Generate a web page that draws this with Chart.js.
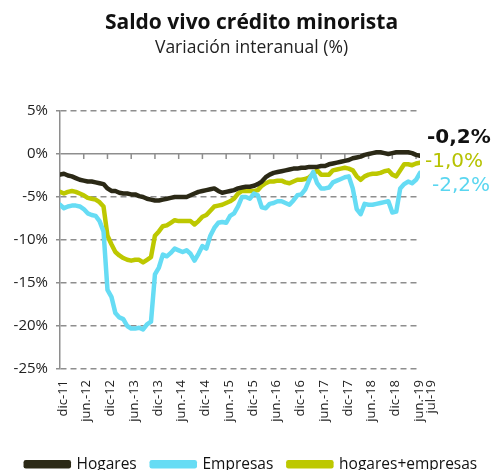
<!DOCTYPE html>
<html><head><meta charset="utf-8">
<script src="https://cdn.jsdelivr.net/npm/chart.js@4"></script>
<style>html,body{margin:0;padding:0;background:#fff}</style>
</head><body>
<canvas id="c" width="493" height="470"></canvas>
<script>
// Month index 0 = dic-11 ... 91 = jul-19
const tickMonths = [0,6,12,18,24,30,36,42,48,54,60,66,72,78,84,90,93];
const tickLabels = ['dic-11','jun.-12','dic-12','jun.-13','dic-13','jun.-14','dic-14','jun.-15','dic-15','jun.-16','dic-16','jun.-17','dic-17','jun.-18','dic-18','jun.-19','jul-19'];
const seriesNames = ['Hogares','Empresas','hogares+empresas'];

const hogares = [
 -2.4,-2.3,-2.5,-2.6,-2.8,-3.0,-3.1,-3.2,-3.2,-3.3,-3.4,-3.5,
 -4.0,-4.3,-4.3,-4.5,-4.6,-4.6,-4.7,-4.7,-4.9,-5.0,-5.2,-5.3,
 -5.4,-5.4,-5.3,-5.2,-5.1,-5.0,-5.0,-5.0,-5.0,-4.8,-4.6,-4.4,
 -4.3,-4.2,-4.1,-4.0,-4.3,-4.5,-4.4,-4.3,-4.2,-4.0,-3.9,-3.8,
 -3.8,-3.7,-3.5,-3.2,-2.7,-2.4,-2.2,-2.1,-2.0,-1.9,-1.8,-1.7,
 -1.7,-1.6,-1.6,-1.5,-1.5,-1.5,-1.4,-1.4,-1.2,-1.1,-1.0,-0.9,
 -0.8,-0.7,-0.5,-0.4,-0.3,-0.1,0.0,0.1,0.2,0.2,0.1,0.0,
 0.1,0.2,0.2,0.2,0.2,0.1,-0.1,-0.2];
const empresas = [
 -5.9,-6.3,-6.1,-6.0,-6.0,-6.1,-6.4,-6.9,-7.1,-7.2,-7.8,-9.0,
 -15.8,-16.6,-18.5,-19.0,-19.2,-20.0,-20.3,-20.3,-20.2,-20.4,-19.8,-19.5,
 -14.0,-13.2,-11.7,-11.9,-11.5,-11.0,-11.2,-11.4,-11.2,-11.6,-12.4,-11.6,
 -10.7,-11.0,-9.5,-8.6,-8.0,-7.9,-8.0,-7.2,-6.9,-6.1,-5.0,-5.0,
 -5.2,-4.6,-4.8,-6.2,-6.3,-5.8,-5.7,-5.5,-5.5,-5.7,-5.9,-5.4,
 -4.8,-4.7,-4.1,-3.0,-2.1,-3.4,-4.0,-4.0,-3.9,-3.3,-3.1,-2.9,
 -2.7,-2.6,-4.0,-6.4,-7.0,-5.8,-5.9,-5.9,-5.8,-5.7,-5.6,-5.5,
 -6.8,-6.7,-4.0,-3.5,-3.2,-3.4,-3.0,-2.2];
const total = [
 -4.4,-4.6,-4.4,-4.3,-4.4,-4.6,-4.8,-5.1,-5.2,-5.3,-5.6,-6.1,
 -9.5,-10.5,-11.4,-11.8,-12.1,-12.3,-12.4,-12.3,-12.3,-12.6,-12.3,-12.0,
 -9.5,-9.0,-8.4,-8.3,-8.0,-7.7,-7.8,-7.8,-7.8,-7.8,-8.2,-7.8,
 -7.3,-7.1,-6.6,-6.1,-6.0,-5.9,-5.7,-5.5,-5.2,-4.6,-4.3,-4.3,
 -4.3,-4.3,-4.2,-3.7,-3.4,-3.2,-3.2,-3.1,-3.1,-3.3,-3.4,-3.2,
 -3.0,-3.0,-2.9,-2.7,-2.3,-1.9,-2.4,-2.4,-2.4,-1.9,-1.8,-1.7,
 -1.6,-1.7,-1.9,-2.6,-3.0,-2.6,-2.4,-2.3,-2.3,-2.2,-2.0,-1.9,
 -2.4,-2.6,-1.9,-1.2,-1.2,-1.3,-1.1,-1.0];
const yTicks = [5,0,-5,-10,-15,-20,-25];

const colors = ['#2b2916','#66dcf4','#bdc800'];
const labelColors = ['#111111','#5ad6f0','#b6c200'];
const FONT = 'Open Sans';
const GRID = '#8e8e8e';

const pts = arr => arr.map((v,i)=>({x:i,y:v}));

const zeroAxisPlugin = {
  id:'zeroAxis',
  beforeDatasetsDraw(chart){
    const {ctx, scales:{x,y}} = chart;
    const y0 = y.getPixelForValue(0);
    ctx.save();
    ctx.strokeStyle = GRID; ctx.lineWidth = 1.5;
    ctx.beginPath();
    tickMonths.forEach(m => {
      if (m > 0 && m <= x.max) {
        const px = x.getPixelForValue(m);
        ctx.moveTo(px, y0); ctx.lineTo(px, y0 + 5);
      }
    });
    ctx.stroke();
    ctx.restore();
  }
};

const endLabelPlugin = {
  id:'endLabels',
  afterDatasetsDraw(chart){
    const {ctx} = chart;
    const style = [
      {dx:7, dy:-18, weight:'bold'},
      {dx:12, dy:12.5, weight:'normal'},
      {dx:5, dy:-1, weight:'normal'}
    ];
    chart.data.datasets.forEach((ds, i) => {
      const meta = chart.getDatasetMeta(i);
      const last = meta.data[meta.data.length-1];
      const v = ds.data[ds.data.length-1].y;
      const txt = v.toFixed(1).replace('.', ',') + '%';
      ctx.save();
      ctx.font = style[i].weight + ' 20px "DejaVu Sans"';
      ctx.fillStyle = labelColors[i];
      ctx.textAlign = 'left'; ctx.textBaseline = 'middle';
      ctx.fillText(txt, last.x + style[i].dx, last.y + style[i].dy);
      ctx.restore();
    });
  }
};

new Chart(document.getElementById('c'), {
  type:'line',
  data:{
    datasets:[
      {label:seriesNames[0], data:pts(hogares), borderColor:colors[0], backgroundColor:colors[0]},
      {label:seriesNames[1], data:pts(empresas), borderColor:colors[1], backgroundColor:colors[1]},
      {label:seriesNames[2], data:pts(total), borderColor:colors[2], backgroundColor:colors[2]}
    ]
  },
  options:{
    responsive:false, animation:false, devicePixelRatio:1,
    layout:{padding:{left:10, right:0, top:0, bottom:-12}},
    elements:{
      line:{borderWidth:4.5, tension:0, borderJoinStyle:'round', borderCapStyle:'round', fill:false},
      point:{radius:0, hoverRadius:0}
    },
    plugins:{
      tooltip:{enabled:false},
      title:{display:true, text:'Saldo vivo crédito minorista', color:'#111',
        font:{family:FONT, size:21, weight:'bold'}, padding:{top:10, bottom:0}},
      subtitle:{display:true, text:'Variación interanual (%)', color:'#222',
        font:{family:FONT, size:17.5}, padding:{top:2, bottom:52.8}},
      legend:{display:true, position:'bottom',
        labels:{boxWidth:43, boxHeight:4, padding:15, color:'#111',
          font:{family:FONT, size:15.5}}}
    },
    scales:{
      x:{type:'linear', min:0, max:91,
        afterBuildTicks: s => { s.ticks = tickMonths.map(v => ({value:v})); },
        afterFit: s => { s.height = 72.5; },
        ticks:{autoSkip:false, minRotation:90, maxRotation:90, padding:11, labelOffset:3,
          color:'#222', font:{family:FONT, size:13},
          callback:(v, idx) => tickLabels[idx]},
        grid:{display:false, drawTicks:false},
        border:{display:false}},
      y:{min:-25, max:5,
        afterBuildTicks: s => { s.ticks = yTicks.map(v => ({value:v})); },
        afterFit: s => { s.width = 50; },
        ticks:{padding:8, color:'#222', font:{family:FONT, size:15},
          callback:v => v + '%'},
        grid:{color:GRID, lineWidth:1.5, drawTicks:true, tickLength:4, tickColor:GRID, tickWidth:1.5, tickBorderDash:[]},
        border:{display:true, color:GRID, width:1.5,
          dash: c => (c.tick && c.tick.value === 0) ? [] : [6,4]}},
      yR:{position:'right', min:0, max:1,
        afterFit: s => { s.width = 73; },
        ticks:{display:false}, grid:{display:false}, border:{display:false}}
    }
  },
  plugins:[zeroAxisPlugin, endLabelPlugin]
});
</script>
</body></html>
